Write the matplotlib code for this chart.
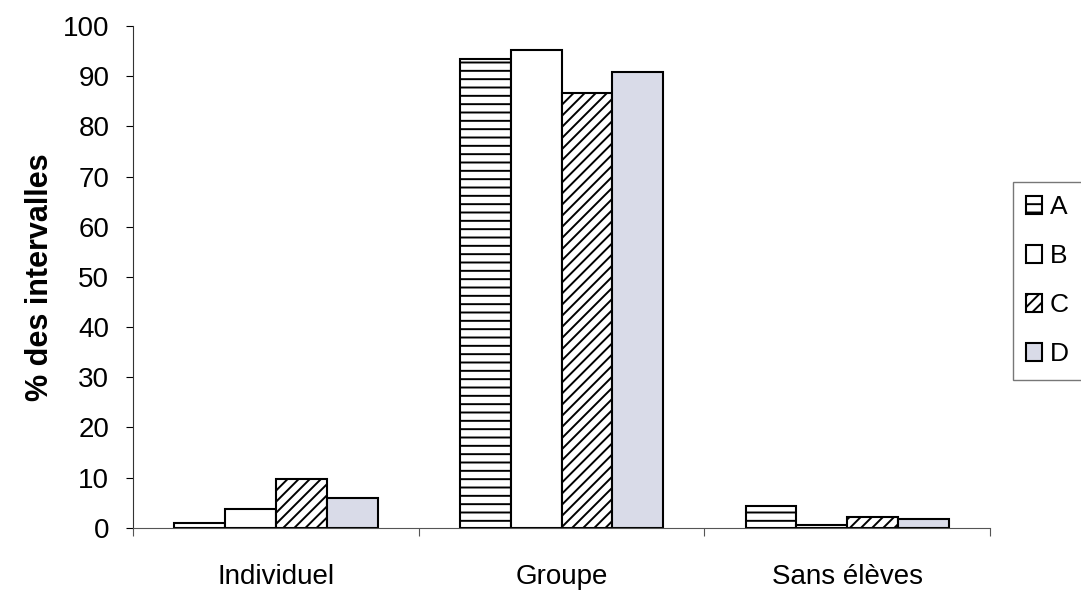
import numpy as np
import matplotlib.pyplot as plt

plt.rcParams['font.family'] = ['Liberation Sans', 'DejaVu Sans']
plt.rcParams['hatch.linewidth'] = 1.4

categories = ['Individuel', 'Groupe', 'Sans élèves']
series = ['A', 'B', 'C', 'D']
values_a = [1.0, 93.4, 4.4]
values_b = [3.8, 95.2, 0.6]
values_c = [9.8, 86.6, 2.2]
values_d = [6.0, 90.8, 1.8]

fills = ['white', 'white', 'white', '#d9dbe8']
hatches = ['--', '', '///', '']

fig = plt.figure(figsize=(10.81, 5.91), dpi=100)
ax = fig.add_axes([0.123, 0.107, 0.793, 0.849])

x = np.arange(len(categories))
w = 0.178
for i, vals in enumerate([values_a, values_b, values_c, values_d]):
    ax.bar(x + (i - 1.5) * w, vals, width=w, color=fills[i], hatch=hatches[i],
           edgecolor='black', linewidth=1.5, label=series[i])

ax.set_xlim(-0.5, 2.5)
ax.set_ylim(0, 100)
ax.set_yticks(range(0, 101, 10))
ax.set_xticks([-0.5, 0.5, 1.5, 2.5])
ax.set_xticklabels([])
ax.set_xticks(x, minor=True)
ax.set_xticklabels(categories, minor=True, fontsize=20)
ax.tick_params(axis='x', which='minor', length=0, pad=26)
ax.tick_params(axis='x', which='major', length=6, direction='out', color='#555555')
ax.tick_params(axis='y', length=5, direction='out', labelsize=20, pad=12)
ax.spines['top'].set_visible(False)
ax.spines['right'].set_visible(False)
ax.spines['left'].set_color('#333333')
ax.spines['bottom'].set_color('#555555')
ax.set_ylabel('% des intervalles', fontsize=22, fontweight='bold', labelpad=6)

leg = fig.legend(loc='upper left', bbox_to_anchor=(0.937, 0.692), fontsize=19,
                 frameon=True, fancybox=False, edgecolor='#555555',
                 handlelength=0.6, handleheight=0.7, handletextpad=0.3,
                 labelspacing=0.95, borderpad=0.5, borderaxespad=0)

fig.savefig('out.png', dpi=100)
